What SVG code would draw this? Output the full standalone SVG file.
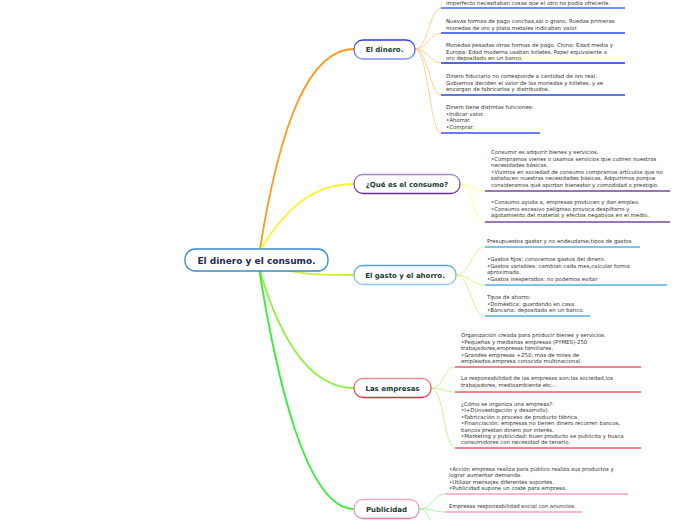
<svg xmlns="http://www.w3.org/2000/svg" width="696" height="520" viewBox="0 0 696 520">
<defs>
<linearGradient id="gBlue" x1="0" y1="0" x2="0" y2="1"><stop offset="0" stop-color="#2438e6"/><stop offset="1" stop-color="#7d90f4"/></linearGradient>
<linearGradient id="gPurple" x1="0" y1="0" x2="0" y2="1"><stop offset="0" stop-color="#a488c8"/><stop offset="1" stop-color="#6a2a98"/></linearGradient>
<linearGradient id="gSky" x1="0" y1="0" x2="0" y2="1"><stop offset="0" stop-color="#4aa6de"/><stop offset="1" stop-color="#8ccbee"/></linearGradient>
<linearGradient id="gRed" x1="0" y1="0" x2="0" y2="1"><stop offset="0" stop-color="#f08a90"/><stop offset="1" stop-color="#e02838"/></linearGradient>
<linearGradient id="gPink" x1="0" y1="0" x2="0" y2="1"><stop offset="0" stop-color="#f5a8c0"/><stop offset="1" stop-color="#f07aa0"/></linearGradient>
</defs>
<style>
.main{fill:none;stroke-width:1.8;stroke-linecap:round}
.sub{fill:none;stroke-width:0.9}
.node{fill:#ffffff;stroke-width:1.3}
.lbl{font-family:"DejaVu Sans",Verdana,sans-serif;font-weight:bold;font-size:7px;fill:#173b30;text-anchor:middle}
.root{font-family:"DejaVu Sans",Verdana,sans-serif;font-weight:bold;font-size:9px;fill:#1d2b55;text-anchor:middle}
.t{font-family:"DejaVu Sans",Verdana,sans-serif;font-size:5.4px;fill:#333333}
.ul{stroke-width:1.6;fill:none}
</style>
<g id="connectors">
<path class="main" stroke="#ff9a1a" d="M259,255 C280,120 310,49 354,49"/>
<path class="main" stroke="#fff030" d="M259,252 C290,200 320,184 354,184"/>
<path class="main" stroke="#c8f040" d="M259,262 C290,275 320,275 354,275"/>
<path class="main" stroke="#90f040" d="M259,268 C280,340 310,388 354,388"/>
<path class="main" stroke="#33ee33" d="M259,268 C275,370 305,509 354,509"/>
<g stroke="#ffc880" class="sub">
<path d="M415,49 C428,49 430,8 441,8"/>
<path d="M415,49 C428,49 430,33 441,33"/>
<path d="M415,49 C428,49 430,63 441,63"/>
<path d="M415,49 C428,49 430,95 441,95"/>
<path d="M415,49 C428,49 430,133 441,133"/>
</g>
<g stroke="#ffff80" class="sub">
<path d="M460,184 C472,184 474,191 485,191"/>
<path d="M460,184 C472,184 474,222 485,222"/>
</g>
<g stroke="#d4f080" class="sub">
<path d="M456,275 C470,275 472,247 485,247"/>
<path d="M456,275 C470,275 472,285 485,285"/>
<path d="M456,275 C470,275 472,316 485,316"/>
</g>
<g stroke="#c0f090" class="sub">
<path d="M431,388 C444,388 444,367 455,367"/>
<path d="M431,388 C444,388 444,392 455,392"/>
<path d="M431,388 C444,388 444,448 455,448"/>
</g>
<g stroke="#a0f0a0" class="sub">
<path d="M419,509 C432,509 434,494 445,494"/>
<path d="M419,509 C432,509 434,512 445,512"/>
<path d="M419,509 C432,509 434,540 445,540"/>
</g>
</g>
<g id="root">
<rect x="185" y="249" width="143" height="22" rx="10" class="node" stroke="#3a8ac8"/>
<text x="256.5" y="263.5" class="root">El dinero y el consumo.</text>
</g>
<g id="n-dinero">
<rect x="354" y="40" width="61" height="19" rx="9" class="node" stroke="url(#gBlue)"/>
<text x="384.5" y="52" class="lbl">El dinero.</text>
</g>
<g id="n-consumo">
<rect x="354" y="174.5" width="106" height="19" rx="9" class="node" stroke="url(#gPurple)"/>
<text x="407" y="186.5" class="lbl">¿Qué es el consumo?</text>
</g>
<g id="n-gasto">
<rect x="354" y="265.5" width="102" height="19" rx="9" class="node" stroke="url(#gSky)"/>
<text x="405" y="277.5" class="lbl">El gasto y el ahorro.</text>
</g>
<g id="n-empresas">
<rect x="354" y="378.5" width="77" height="19" rx="9" class="node" stroke="url(#gRed)"/>
<text x="392.5" y="390.5" class="lbl">Las empresas</text>
</g>
<g id="n-publicidad">
<rect x="354" y="499.5" width="65" height="19" rx="9" class="node" stroke="url(#gPink)"/>
<text x="386.5" y="511.5" class="lbl">Publicidad</text>
</g>
<g id="t-dinero">
<text class="t" x="446" y="5">imperfecto necesitaban cosas que el otro no podía ofrecerle.</text>
<line class="ul" stroke="#4068f0" x1="441" y1="8" x2="625" y2="8"/>
<text class="t" x="446" y="23"><tspan x="446">Nuevas formas de pago conchas,sal o grano. Ruedas primeras</tspan><tspan x="446" dy="6.5">monedas de oro y plata metales indicaban valor.</tspan></text>
<line class="ul" stroke="#2a48ee" x1="441" y1="33" x2="625" y2="33"/>
<text class="t" x="446" y="47"><tspan x="446">Monedas pesadas otras formas de pago. China: Edad media y</tspan><tspan x="446" dy="6.5">Europa: Edad moderna usaban billetes. Papel equivalente a</tspan><tspan x="446" dy="6.5">oro depositado en un banco.</tspan></text>
<line class="ul" stroke="#1a30e6" x1="441" y1="63" x2="625" y2="63"/>
<text class="t" x="446" y="78"><tspan x="446">Dinero fiduciario no corresponde a cantidad de oro real.</tspan><tspan x="446" dy="6.5">Gobiernos deciden el valor de las monedas y billetes, y se</tspan><tspan x="446" dy="6.5">encargan de fabricarlos y distribuidos.</tspan></text>
<line class="ul" stroke="#2a48ee" x1="441" y1="95" x2="625" y2="95"/>
<text class="t" x="446" y="109"><tspan x="446">Dinero tiene distintas funciones:</tspan><tspan x="446" dy="6.5">•Indicar valor.</tspan><tspan x="446" dy="6.5">•Ahorrar.</tspan><tspan x="446" dy="6.5">•Comprar.</tspan></text>
<line class="ul" stroke="#3a50f0" x1="441" y1="133" x2="540" y2="133"/>
</g>
<g id="t-consumo">
<text class="t" x="491" y="154"><tspan x="491">Consumir es adquirir bienes y servicios.</tspan><tspan x="491" dy="6.6">•Compramos vienes o usamos servicios que cubren nuestras</tspan><tspan x="491" dy="6.6">necesidades básicas.</tspan><tspan x="491" dy="6.6">•Vivimos en sociedad de consumo compramos artículos que no</tspan><tspan x="491" dy="6.6">satisfacen nuestras necesidades básicas. Adquirimos porque</tspan><tspan x="491" dy="6.6">consideramos qué aportan bienestar y comodidad o prestigio.</tspan></text>
<line class="ul" stroke="#7a44a2" x1="485" y1="191" x2="670" y2="191"/>
<text class="t" x="491" y="204"><tspan x="491">•Consumo ayuda a, empresas producen y dan empleo.</tspan><tspan x="491" dy="6.6">•Consumo excesivo peligroso provoca despilfarro y</tspan><tspan x="491" dy="6.6">agotamiento del material y efectos negativos en el medio.</tspan></text>
<line class="ul" stroke="#7a44a2" x1="485" y1="222" x2="670" y2="222"/>
</g>
<g id="t-gasto">
<text class="t" x="487" y="243">Presupuestos gastar y no endeudarse,tipos de gastos</text>
<line class="ul" stroke="#50b0e6" x1="485" y1="247" x2="640" y2="247"/>
<text class="t" x="487" y="261"><tspan x="487">•Gastos fijos: conocemos gastos del dinero.</tspan><tspan x="487" dy="6.6">•Gastos variables: cambian cada mes,calcular forma</tspan><tspan x="487" dy="6.6">aproximada.</tspan><tspan x="487" dy="6.6">•Gastos inesperados: no podemos evitar</tspan></text>
<line class="ul" stroke="#50b0e6" x1="485" y1="285" x2="667" y2="285"/>
<text class="t" x="487" y="299"><tspan x="487">Tipos de ahorro:</tspan><tspan x="487" dy="6.6">•Doméstica: guardando en casa.</tspan><tspan x="487" dy="6.6">•Bancaria: depositado en un banco.</tspan></text>
<line class="ul" stroke="#50b0e6" x1="485" y1="316" x2="590" y2="316"/>
</g>
<g id="t-empresas">
<text class="t" x="461" y="337"><tspan x="461">Organización creada para producir bienes y servicios.</tspan><tspan x="461" dy="6.5">•Pequeñas y medianas empresas (PYMES)-250</tspan><tspan x="461" dy="6.5">trabajadores,empresas familiares.</tspan><tspan x="461" dy="6.5">•Grandes empresas +250, más de miles de</tspan><tspan x="461" dy="6.5">empleados,empresa conocida multinacional.</tspan></text>
<line class="ul" stroke="#f05868" x1="455" y1="367" x2="641" y2="367"/>
<text class="t" x="461" y="380"><tspan x="461">La responsabilidad de las empresas son:las sociedad,los</tspan><tspan x="461" dy="6.5">trabajadores, medioambiente etc...</tspan></text>
<line class="ul" stroke="#f05868" x1="455" y1="392" x2="641" y2="392"/>
<text class="t" x="461" y="406"><tspan x="461">¿Cómo se organiza una empresa?:</tspan><tspan x="461" dy="6.4">•I+D(investigación y desarrollo).</tspan><tspan x="461" dy="6.4">•Fabricación o proceso de producto fábrica.</tspan><tspan x="461" dy="6.4">•Financiación: empresas no tienen dinero recurren bancos,</tspan><tspan x="461" dy="6.4">bancos prestan dinero por interés.</tspan><tspan x="461" dy="6.4">•Marketing y publicidad: buen producto se publicita y busca</tspan><tspan x="461" dy="6.4">consumidores con necesidad de tenerlo.</tspan></text>
<line class="ul" stroke="#f05868" x1="455" y1="448" x2="641" y2="448"/>
</g>
<g id="t-publicidad">
<text class="t" x="449" y="471"><tspan x="449">•Acción empresa realiza para público realiza sus productos y</tspan><tspan x="449" dy="6.4">lograr aumentar demanda.</tspan><tspan x="449" dy="6.4">•Utilizar mensajes diferentes soportes.</tspan><tspan x="449" dy="6.4">•Publicidad supone un coste para empresa.</tspan></text>
<line class="ul" stroke="#f4a0c0" x1="445" y1="494" x2="628" y2="494"/>
<text class="t" x="449" y="508">Empresas responsabilidad social con anuncios.</text>
<line class="ul" stroke="#f4a0c0" x1="445" y1="512" x2="582" y2="512"/>
</g>
</svg>
